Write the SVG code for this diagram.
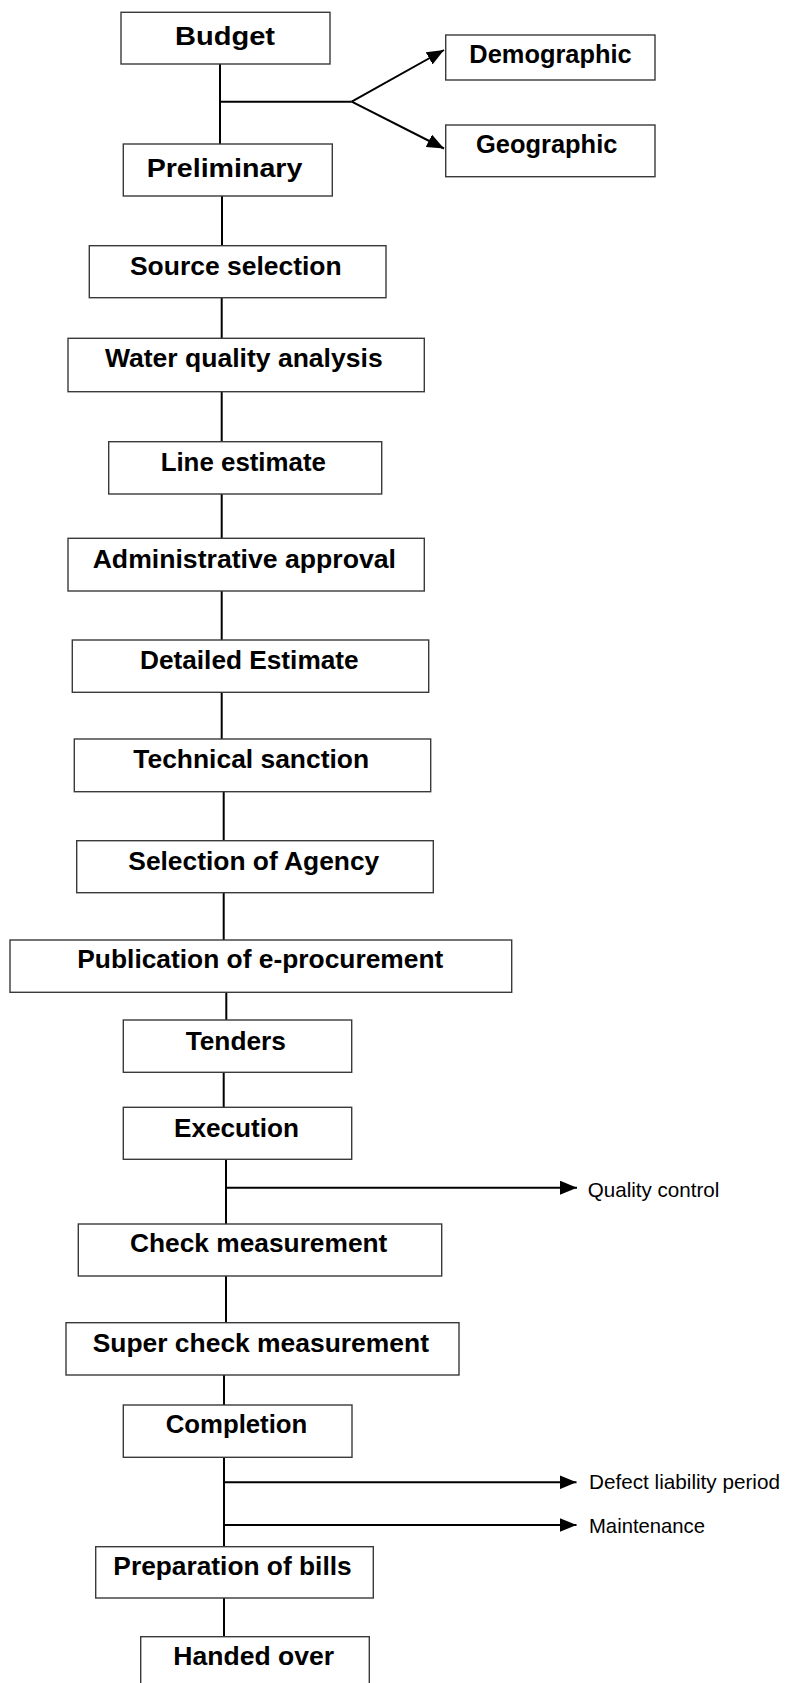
<svg xmlns="http://www.w3.org/2000/svg" width="791" height="1683" viewBox="0 0 791 1683">
<style>
.box{fill:#fff;stroke:#3a3a3a;stroke-width:1.4}
.t{font-family:"Liberation Sans",Arial,sans-serif;font-weight:bold;font-size:26px;fill:#000;text-anchor:middle}
.s{font-family:"Liberation Sans",Arial,sans-serif;font-size:21px;fill:#000}
.c{stroke:#000;stroke-width:2;fill:none}
</style>
<defs>
<marker id="arr" markerWidth="17" markerHeight="14" refX="17" refY="7" orient="auto" markerUnits="userSpaceOnUse">
<path d="M0,0 L17,7 L0,14 z" fill="#000"/>
</marker>
</defs>
<rect width="791" height="1683" fill="#fff"/>
<g id="connectors">
<line class="c" x1="220" y1="64" x2="220" y2="144"/>
<polyline class="c" points="220,101.7 351.7,101.7"/>
<line class="c" x1="351.7" y1="101.7" x2="444" y2="50" marker-end="url(#arr)"/>
<line class="c" x1="351.7" y1="101.7" x2="444" y2="148.5" marker-end="url(#arr)"/>
<line class="c" x1="222" y1="196" x2="222" y2="246"/>
<line class="c" x1="221.7" y1="298" x2="221.7" y2="338"/>
<line class="c" x1="221.7" y1="392" x2="221.7" y2="442"/>
<line class="c" x1="221.7" y1="494" x2="221.7" y2="538"/>
<line class="c" x1="221.7" y1="591" x2="221.7" y2="640"/>
<line class="c" x1="221.7" y1="692" x2="221.7" y2="739"/>
<line class="c" x1="223.7" y1="792" x2="223.7" y2="841"/>
<line class="c" x1="223.7" y1="893" x2="223.7" y2="940"/>
<line class="c" x1="226.3" y1="992" x2="226.3" y2="1020"/>
<line class="c" x1="223.7" y1="1072" x2="223.7" y2="1107"/>
<line class="c" x1="226" y1="1159" x2="226" y2="1224"/>
<line class="c" x1="226" y1="1187.7" x2="577" y2="1187.7" marker-end="url(#arr)"/>
<line class="c" x1="226" y1="1276" x2="226" y2="1323"/>
<line class="c" x1="224" y1="1375" x2="224" y2="1405"/>
<line class="c" x1="224" y1="1457" x2="224" y2="1547"/>
<line class="c" x1="224" y1="1482.3" x2="576.5" y2="1482.3" marker-end="url(#arr)"/>
<line class="c" x1="224" y1="1525" x2="576.5" y2="1525" marker-end="url(#arr)"/>
<line class="c" x1="224" y1="1598" x2="224" y2="1637"/>
</g>
<g id="budget"><rect class="box" x="121" y="12.3" width="209" height="51.7"/><text class="t" x="225" y="45" textLength="100" lengthAdjust="spacingAndGlyphs" font-size="28">Budget</text></g>
<g id="demographic"><rect class="box" x="445.7" y="35" width="209.3" height="45"/><text class="t" x="550.5" y="63.3" textLength="162.3" lengthAdjust="spacingAndGlyphs">Demographic</text></g>
<g id="geographic"><rect class="box" x="445.7" y="125" width="209.3" height="51.7"/><text class="t" x="546.7" y="153.3" textLength="141.3" lengthAdjust="spacingAndGlyphs">Geographic</text></g>
<g id="preliminary"><rect class="box" x="123.3" y="144" width="209" height="52"/><text class="t" x="224.5" y="176.7" textLength="155.7" lengthAdjust="spacingAndGlyphs" font-size="28">Preliminary</text></g>
<g id="source-selection"><rect class="box" x="89.3" y="245.7" width="296.7" height="52"/><text class="t" x="235.8" y="275" textLength="211.7" lengthAdjust="spacingAndGlyphs">Source selection</text></g>
<g id="water-quality"><rect class="box" x="68" y="338.3" width="356.3" height="53.4"/><text class="t" x="243.8" y="367.3" textLength="277.7" lengthAdjust="spacingAndGlyphs">Water quality analysis</text></g>
<g id="line-estimate"><rect class="box" x="108.7" y="441.7" width="273" height="52.3"/><text class="t" x="243.3" y="470.7" textLength="165.3" lengthAdjust="spacingAndGlyphs">Line estimate</text></g>
<g id="admin-approval"><rect class="box" x="68" y="538.3" width="356.3" height="52.7"/><text class="t" x="244.3" y="568.3" textLength="303.3" lengthAdjust="spacingAndGlyphs">Administrative approval</text></g>
<g id="detailed-estimate"><rect class="box" x="72.3" y="640" width="356.4" height="52.3"/><text class="t" x="249.3" y="669" textLength="218.7" lengthAdjust="spacingAndGlyphs">Detailed Estimate</text></g>
<g id="technical-sanction"><rect class="box" x="74.3" y="739" width="356.4" height="52.7"/><text class="t" x="251.2" y="768.3" textLength="235.7" lengthAdjust="spacingAndGlyphs">Technical sanction</text></g>
<g id="selection-agency"><rect class="box" x="76.7" y="840.7" width="356.6" height="52"/><text class="t" x="253.8" y="870" textLength="251" lengthAdjust="spacingAndGlyphs">Selection of Agency</text></g>
<g id="publication"><rect class="box" x="10" y="940" width="501.7" height="52.3"/><text class="t" x="260.3" y="968.3" textLength="366" lengthAdjust="spacingAndGlyphs">Publication of e-procurement</text></g>
<g id="tenders"><rect class="box" x="123.3" y="1020" width="228.4" height="52.3"/><text class="t" x="235.8" y="1050" textLength="100.3" lengthAdjust="spacingAndGlyphs">Tenders</text></g>
<g id="execution"><rect class="box" x="123.3" y="1107.3" width="228.4" height="52"/><text class="t" x="236.5" y="1136.7" textLength="125" lengthAdjust="spacingAndGlyphs">Execution</text></g>
<g id="quality-control"><text class="s" x="587.7" y="1196.7" textLength="131.7" lengthAdjust="spacingAndGlyphs">Quality control</text></g>
<g id="check-measurement"><rect class="box" x="78.3" y="1224" width="363.4" height="52"/><text class="t" x="258.7" y="1252.3" textLength="257.3" lengthAdjust="spacingAndGlyphs">Check measurement</text></g>
<g id="super-check"><rect class="box" x="66" y="1322.7" width="393" height="52.3"/><text class="t" x="260.8" y="1351.7" textLength="336.3" lengthAdjust="spacingAndGlyphs">Super check measurement</text></g>
<g id="completion"><rect class="box" x="123.3" y="1405" width="228.7" height="52.3"/><text class="t" x="236.5" y="1433.3" textLength="141.7" lengthAdjust="spacingAndGlyphs">Completion</text></g>
<g id="defect-liability"><text class="s" x="589" y="1489" textLength="191" lengthAdjust="spacingAndGlyphs">Defect liability period</text></g>
<g id="maintenance"><text class="s" x="589" y="1533" textLength="116" lengthAdjust="spacingAndGlyphs">Maintenance</text></g>
<g id="preparation-bills"><rect class="box" x="95.7" y="1546.7" width="277.6" height="51.3"/><text class="t" x="232.5" y="1575" textLength="238.3" lengthAdjust="spacingAndGlyphs">Preparation of bills</text></g>
<g id="handed-over"><rect class="box" x="140.7" y="1636.7" width="228.6" height="60"/><text class="t" x="253.7" y="1665" textLength="160.7" lengthAdjust="spacingAndGlyphs">Handed over</text></g>
</svg>
